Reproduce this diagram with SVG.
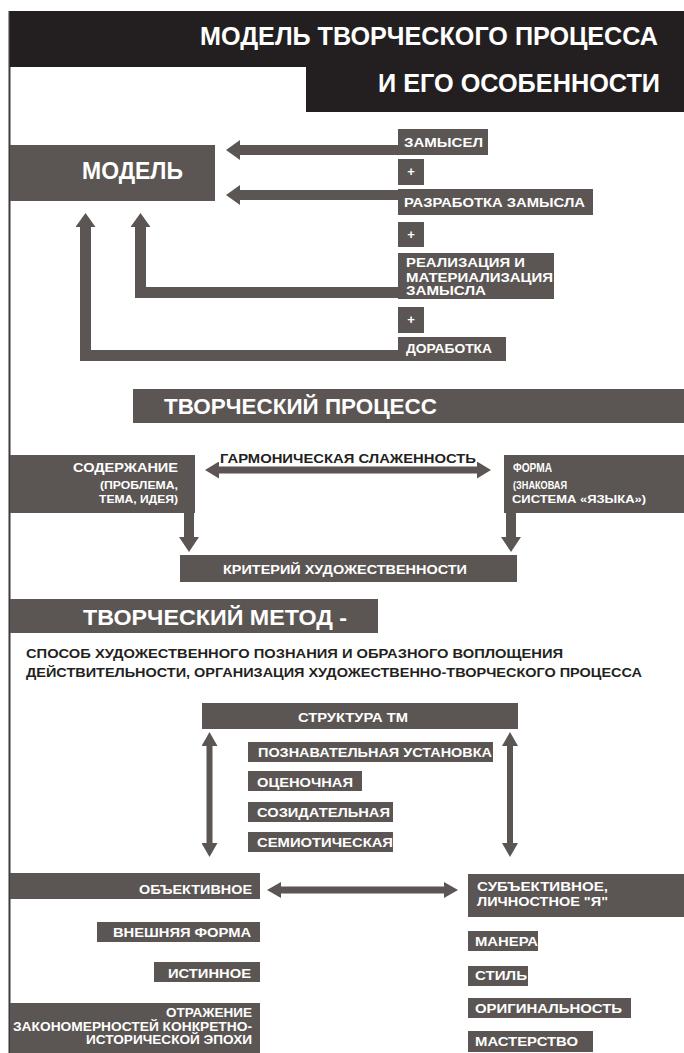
<svg xmlns="http://www.w3.org/2000/svg" width="684" height="1053" viewBox="0 0 684 1053">
<style>
.bg{fill:#ffffff}
.box{fill:#5b5654}
.hdr{fill:#231f20}
.t{font-family:"Liberation Sans Narrow","Liberation Sans",Arial,sans-serif;font-weight:bold;fill:#ffffff}
.dk{fill:#231f20}
.frame{stroke:#3c3a3a;stroke-width:2;fill:none}
.arr{stroke:#5b5654;fill:none;stroke-linejoin:miter}
.h{fill:#5b5654}
</style>
<defs>
<marker id="mBig" markerUnits="userSpaceOnUse" markerWidth="14" markerHeight="20" refX="0" refY="10" orient="auto-start-reverse"><path class="h" d="M0,0 L14,10 L0,20 Z"/></marker>
<marker id="mUp" markerUnits="userSpaceOnUse" markerWidth="14" markerHeight="20" refX="0" refY="10" orient="auto-start-reverse"><path class="h" d="M0,0 L14,10 L0,20 Z"/></marker>
<marker id="mMid" markerUnits="userSpaceOnUse" markerWidth="14" markerHeight="17" refX="0" refY="8.5" orient="auto-start-reverse"><path class="h" d="M0,0 L14,8.5 L0,17 Z"/></marker>
<marker id="mDown" markerUnits="userSpaceOnUse" markerWidth="15" markerHeight="20" refX="0" refY="10" orient="auto-start-reverse"><path class="h" d="M0,0 L15,10 L0,20 Z"/></marker>
<marker id="mSm" markerUnits="userSpaceOnUse" markerWidth="14" markerHeight="16" refX="0" refY="8" orient="auto-start-reverse"><path class="h" d="M0,0 L14,8 L0,16 Z"/></marker>
</defs>
<rect class="bg" x="0" y="0" width="684" height="1053"/>
<line class="frame" x1="9.5" y1="11" x2="9.5" y2="1053"/>

<g id="header">
<path class="hdr" d="M10,11 H684 V112 H306 V67 H10 Z"/>
<text class="t" x="200" y="45" font-size="26" textLength="458" lengthAdjust="spacingAndGlyphs">МОДЕЛЬ ТВОРЧЕСКОГО ПРОЦЕССА</text>
<text class="t" x="378" y="92" font-size="26" textLength="282" lengthAdjust="spacingAndGlyphs">И ЕГО ОСОБЕННОСТИ</text>
</g>

<g id="connectors">
<line class="arr" stroke-width="10" x1="398" y1="150" x2="240" y2="150" marker-end="url(#mBig)"/>
<line class="arr" stroke-width="10" x1="398" y1="195" x2="240" y2="195" marker-end="url(#mBig)"/>
<polyline class="arr" stroke-width="11" points="398,292.5 140.5,292.5 140.5,227" marker-end="url(#mUp)"/>
<polyline class="arr" stroke-width="11" points="398,355.5 85.5,355.5 85.5,227" marker-end="url(#mUp)"/>
<line class="arr" stroke-width="7" x1="219" y1="470" x2="477" y2="470" marker-start="url(#mMid)" marker-end="url(#mMid)"/>
<line class="arr" stroke-width="10" x1="189" y1="513" x2="189" y2="537" marker-end="url(#mDown)"/>
<line class="arr" stroke-width="10" x1="511" y1="513" x2="511" y2="537" marker-end="url(#mDown)"/>
<line class="arr" stroke-width="6" x1="209.5" y1="746" x2="209.5" y2="843" marker-start="url(#mSm)" marker-end="url(#mSm)"/>
<line class="arr" stroke-width="6" x1="510" y1="746" x2="510" y2="843" marker-start="url(#mSm)" marker-end="url(#mSm)"/>
<line class="arr" stroke-width="7" x1="281" y1="890" x2="444" y2="890" marker-start="url(#mSm)" marker-end="url(#mSm)"/>
</g>

<g id="model">
<rect class="box" x="10" y="145" width="205" height="56"/>
<text class="t" x="82" y="179" font-size="24" textLength="101" lengthAdjust="spacingAndGlyphs">МОДЕЛЬ</text>
</g>
<g id="zamysel">
<rect class="box" x="398" y="129" width="90" height="26"/>
<text class="t" x="404" y="147" font-size="13.5" textLength="79" lengthAdjust="spacingAndGlyphs">ЗАМЫСЕЛ</text>
</g>
<g id="plus1">
<rect class="box" x="398" y="159" width="26" height="26"/>
<text class="t" x="411" y="176" font-size="13" text-anchor="middle">+</text>
</g>
<g id="razrabotka">
<rect class="box" x="398" y="189" width="195" height="26"/>
<text class="t" x="404" y="207" font-size="13.5" textLength="181" lengthAdjust="spacingAndGlyphs">РАЗРАБОТКА ЗАМЫСЛА</text>
</g>
<g id="plus2">
<rect class="box" x="398" y="222" width="26" height="25"/>
<text class="t" x="411" y="239" font-size="13" text-anchor="middle">+</text>
</g>
<g id="realizaciya">
<rect class="box" x="398" y="253" width="156" height="46"/>
<text class="t" x="406" y="267" font-size="13" textLength="119" lengthAdjust="spacingAndGlyphs">РЕАЛИЗАЦИЯ И</text>
<text class="t" x="406" y="281.5" font-size="13" textLength="147" lengthAdjust="spacingAndGlyphs">МАТЕРИАЛИЗАЦИЯ</text>
<text class="t" x="406" y="295" font-size="13" textLength="80" lengthAdjust="spacingAndGlyphs">ЗАМЫСЛА</text>
</g>
<g id="plus3">
<rect class="box" x="398" y="307" width="26" height="26"/>
<text class="t" x="411" y="324" font-size="13" text-anchor="middle">+</text>
</g>
<g id="dorabotka">
<rect class="box" x="398" y="337" width="108" height="24"/>
<text class="t" x="406" y="353" font-size="13.5" textLength="86" lengthAdjust="spacingAndGlyphs">ДОРАБОТКА</text>
</g>

<g id="process">
<rect class="box" x="133" y="389" width="551" height="34"/>
<text class="t" x="164" y="414" font-size="22" textLength="273" lengthAdjust="spacingAndGlyphs">ТВОРЧЕСКИЙ ПРОЦЕСС</text>
</g>
<g id="harmony">
<text class="t dk" x="220" y="463" font-size="13" textLength="256" lengthAdjust="spacingAndGlyphs">ГАРМОНИЧЕСКАЯ СЛАЖЕННОСТЬ</text>
</g>
<g id="soderzhanie">
<rect class="box" x="10" y="455" width="185" height="58"/>
<text class="t" x="73" y="472" font-size="13.5" textLength="105" lengthAdjust="spacingAndGlyphs">СОДЕРЖАНИЕ</text>
<text class="t" x="100" y="489" font-size="11" textLength="78" lengthAdjust="spacingAndGlyphs">(ПРОБЛЕМА,</text>
<text class="t" x="99" y="503" font-size="11" textLength="79" lengthAdjust="spacingAndGlyphs">ТЕМА, ИДЕЯ)</text>
</g>
<g id="forma">
<rect class="box" x="504" y="455" width="180" height="58"/>
<text class="t" x="513" y="472" font-size="13" textLength="39" lengthAdjust="spacingAndGlyphs">ФОРМА</text>
<text class="t" x="513" y="489" font-size="11" textLength="54" lengthAdjust="spacingAndGlyphs">(ЗНАКОВАЯ</text>
<text class="t" x="512" y="503" font-size="11" textLength="134" lengthAdjust="spacingAndGlyphs">СИСТЕМА «ЯЗЫКА»)</text>
</g>
<g id="kriteriy">
<rect class="box" x="180" y="555" width="337" height="27"/>
<text class="t" x="223" y="574" font-size="12" textLength="244" lengthAdjust="spacingAndGlyphs">КРИТЕРИЙ ХУДОЖЕСТВЕННОСТИ</text>
</g>

<g id="metod">
<rect class="box" x="10" y="599" width="368" height="34"/>
<text class="t" x="83" y="625" font-size="22" textLength="264" lengthAdjust="spacingAndGlyphs">ТВОРЧЕСКИЙ МЕТОД -</text>
</g>
<g id="definition">
<text class="t dk" x="26" y="658" font-size="12" textLength="537" lengthAdjust="spacingAndGlyphs">СПОСОБ ХУДОЖЕСТВЕННОГО ПОЗНАНИЯ И ОБРАЗНОГО ВОПЛОЩЕНИЯ</text>
<text class="t dk" x="26" y="677" font-size="12" textLength="616" lengthAdjust="spacingAndGlyphs">ДЕЙСТВИТЕЛЬНОСТИ, ОРГАНИЗАЦИЯ ХУДОЖЕСТВЕННО-ТВОРЧЕСКОГО ПРОЦЕССА</text>
</g>
<g id="struktura">
<rect class="box" x="202" y="703" width="316" height="26"/>
<text class="t" x="298" y="722" font-size="13" textLength="110" lengthAdjust="spacingAndGlyphs">СТРУКТУРА ТМ</text>
</g>
<g id="poznavatelnaya">
<rect class="box" x="248" y="742" width="245" height="20"/>
<text class="t" x="258" y="757" font-size="13" textLength="234" lengthAdjust="spacingAndGlyphs">ПОЗНАВАТЕЛЬНАЯ УСТАНОВКА</text>
</g>
<g id="ocenochnaya">
<rect class="box" x="248" y="771" width="114" height="20"/>
<text class="t" x="257" y="787" font-size="13" textLength="96" lengthAdjust="spacingAndGlyphs">ОЦЕНОЧНАЯ</text>
</g>
<g id="sozidatelnaya">
<rect class="box" x="248" y="802" width="145" height="20"/>
<text class="t" x="257" y="817" font-size="13" textLength="133" lengthAdjust="spacingAndGlyphs">СОЗИДАТЕЛЬНАЯ</text>
</g>
<g id="semioticheskaya">
<rect class="box" x="248" y="832" width="145" height="20"/>
<text class="t" x="257" y="847" font-size="13" textLength="136" lengthAdjust="spacingAndGlyphs">СЕМИОТИЧЕСКАЯ</text>
</g>

<g id="obektivnoe">
<rect class="box" x="10" y="873" width="250" height="26"/>
<text class="t" x="139" y="894" font-size="13" textLength="113" lengthAdjust="spacingAndGlyphs">ОБЪЕКТИВНОЕ</text>
</g>
<g id="subektivnoe">
<rect class="box" x="468" y="874" width="216" height="43"/>
<text class="t" x="477" y="891" font-size="13" textLength="131" lengthAdjust="spacingAndGlyphs">СУБЪЕКТИВНОЕ,</text>
<text class="t" x="477" y="906" font-size="13" textLength="131" lengthAdjust="spacingAndGlyphs">ЛИЧНОСТНОЕ "Я"</text>
</g>
<g id="vneshnyaya">
<rect class="box" x="97" y="922" width="163" height="20"/>
<text class="t" x="113" y="937" font-size="13" textLength="138" lengthAdjust="spacingAndGlyphs">ВНЕШНЯЯ ФОРМА</text>
</g>
<g id="istinnoe">
<rect class="box" x="154" y="962" width="106" height="20"/>
<text class="t" x="168" y="978" font-size="13" textLength="83" lengthAdjust="spacingAndGlyphs">ИСТИННОЕ</text>
</g>
<g id="otrazhenie">
<rect class="box" x="10" y="1003" width="250" height="50"/>
<text class="t" x="166" y="1017" font-size="12.5" textLength="86" lengthAdjust="spacingAndGlyphs">ОТРАЖЕНИЕ</text>
<text class="t" x="13" y="1031" font-size="12.5" textLength="239" lengthAdjust="spacingAndGlyphs">ЗАКОНОМЕРНОСТЕЙ КОНКРЕТНО-</text>
<text class="t" x="86" y="1044" font-size="12.5" textLength="166" lengthAdjust="spacingAndGlyphs">ИСТОРИЧЕСКОЙ ЭПОХИ</text>
</g>
<g id="manera">
<rect class="box" x="468" y="931" width="70" height="20"/>
<text class="t" x="475" y="946" font-size="13" textLength="63" lengthAdjust="spacingAndGlyphs">МАНЕРА</text>
</g>
<g id="stil">
<rect class="box" x="468" y="966" width="60" height="20"/>
<text class="t" x="475" y="980" font-size="13" textLength="52" lengthAdjust="spacingAndGlyphs">СТИЛЬ</text>
</g>
<g id="originalnost">
<rect class="box" x="468" y="998" width="163" height="20"/>
<text class="t" x="475" y="1013" font-size="13" textLength="147" lengthAdjust="spacingAndGlyphs">ОРИГИНАЛЬНОСТЬ</text>
</g>
<g id="masterstvo">
<rect class="box" x="468" y="1031" width="125" height="21"/>
<text class="t" x="475" y="1046" font-size="13" textLength="103" lengthAdjust="spacingAndGlyphs">МАСТЕРСТВО</text>
</g>
</svg>
